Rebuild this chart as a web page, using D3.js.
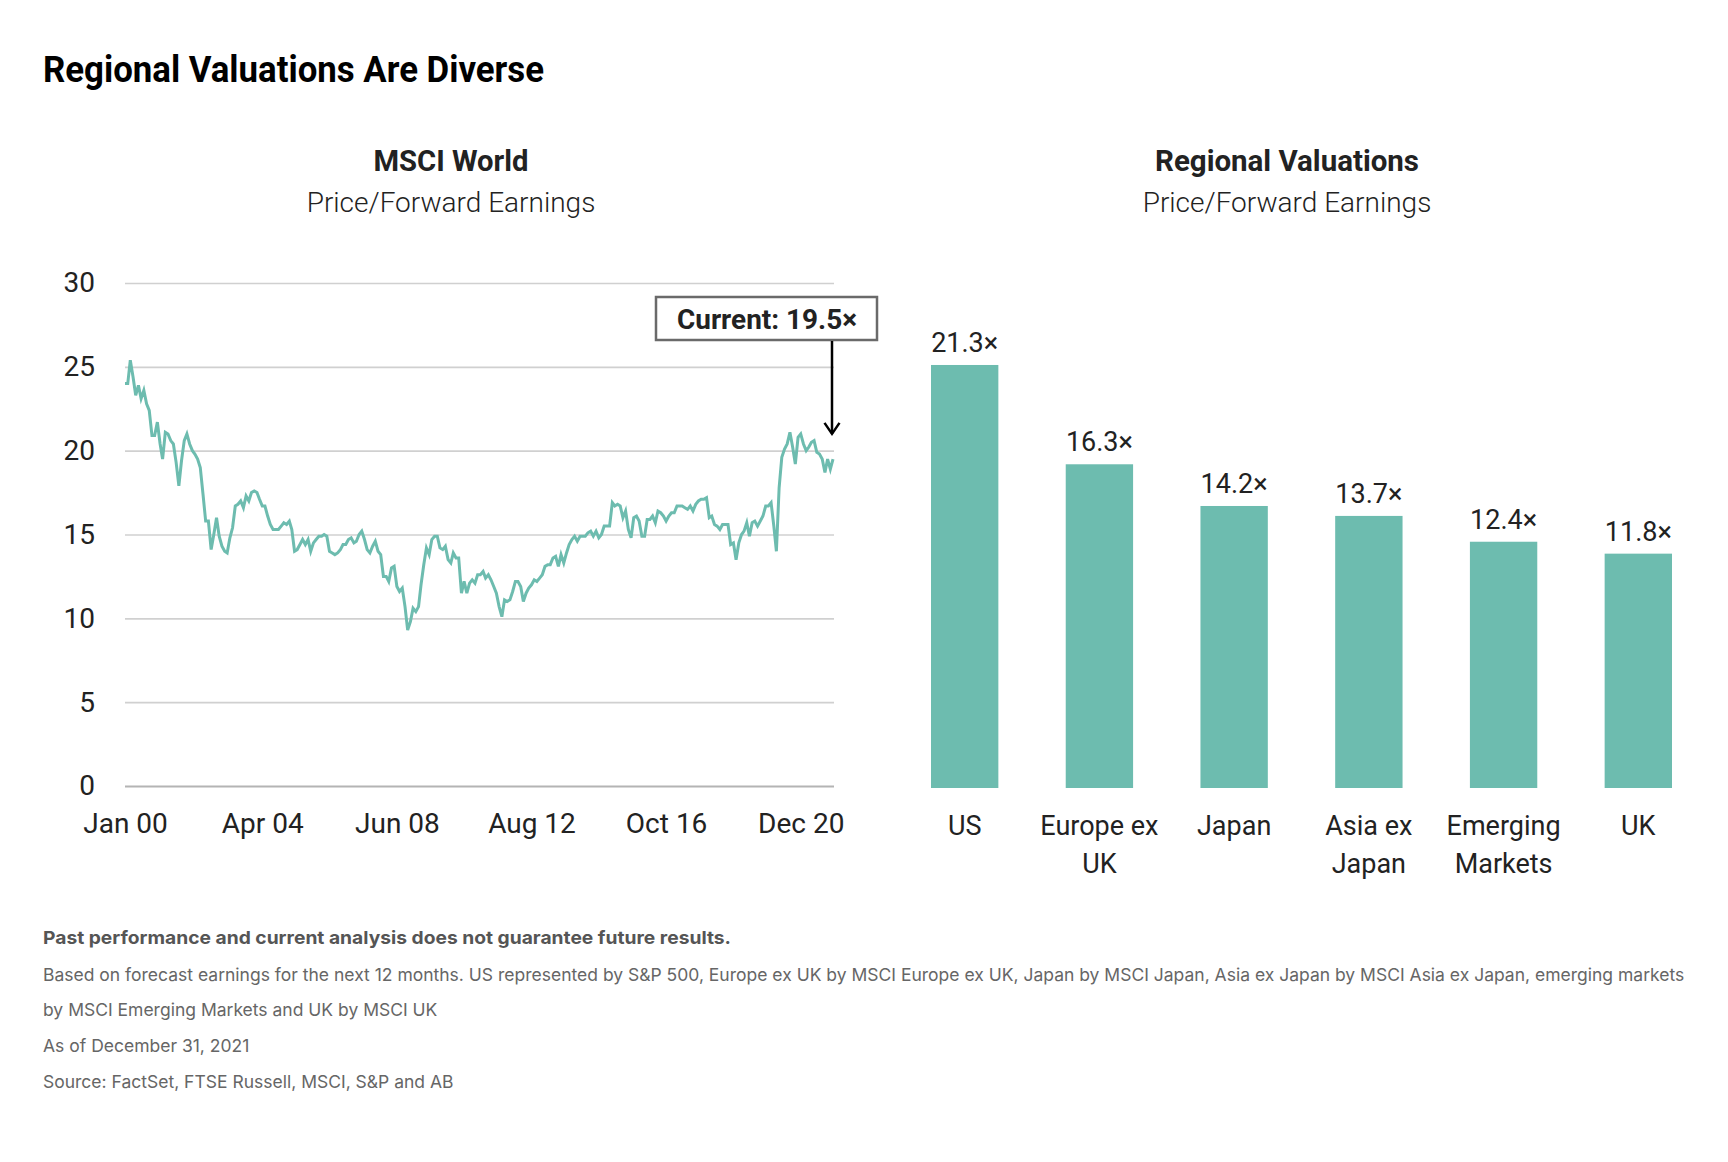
<!DOCTYPE html>
<html lang="en">
<head>
<meta charset="UTF-8">
<title>Regional Valuations Are Diverse</title>
<script src="https://cdn.jsdelivr.net/npm/d3@7"></script>
<style>
  body { margin: 0; background: #fff; }
  svg { display: block; font-family: Roboto, "Noto Sans", sans-serif; }
</style>
</head>
<body>
<div id="chart"></div>
<script>
// ---- data ----
// MSCI World forward P/E, monthly from Jan 2000 to Dec 2021
var peStart = "2000-01";
var peValues = [
  24.0, 24.0, 25.4, 24.4, 23.3, 23.9, 23.1, 23.6, 22.8, 22.4, 20.9, 20.9,
  21.7, 20.4, 19.5, 21.1, 21.0, 20.6, 20.4, 19.3, 17.9, 19.4, 20.6, 21.0,
  20.4, 20.0, 19.8, 19.5, 19.0, 17.4, 15.8, 15.8, 14.1, 15.0, 16.0, 14.9,
  14.3, 14.0, 13.9, 14.8, 15.4, 16.7, 16.8, 17.0, 16.6, 17.3, 17.0, 17.5,
  17.6, 17.5, 17.1, 16.7, 16.7, 16.1, 15.6, 15.3, 15.3, 15.3, 15.5, 15.7,
  15.6, 15.8, 15.3, 14.0, 14.1, 14.4, 14.7, 14.4, 14.7, 14.0, 14.5, 14.7,
  14.9, 14.9, 15.0, 14.9, 14.0, 13.9, 13.8, 13.9, 14.1, 14.4, 14.4, 14.7,
  14.8, 14.5, 14.6, 15.0, 15.2, 14.7, 14.1, 13.9, 14.3, 14.6, 14.0, 13.8,
  12.5, 12.5, 12.2, 13.0, 13.1, 11.9, 11.6, 11.8, 10.7, 9.3, 9.8, 10.6,
  10.4, 10.7, 12.0, 13.2, 14.2, 13.8, 14.7, 14.9, 14.9, 14.2, 14.1, 14.3,
  13.5, 13.3, 13.9, 13.6, 13.6, 11.5, 12.2, 11.5, 12.1, 12.3, 12.1, 12.6,
  12.6, 12.8, 12.4, 12.6, 12.3, 11.9, 11.5, 10.7, 10.1, 11.1, 11.0, 11.1,
  11.6, 12.2, 12.2, 11.9, 11.0, 11.5, 11.8, 12.0, 12.3, 12.2, 12.4, 12.6,
  13.1, 13.2, 13.2, 13.6, 13.7, 13.1, 13.8, 13.3, 13.9, 14.4, 14.7, 14.9,
  14.6, 14.9, 14.9, 14.9, 15.1, 15.2, 14.9, 15.2, 14.8, 15.0, 15.5, 15.5,
  15.5, 16.9, 16.7, 16.8, 16.7, 16.0, 16.4, 15.3, 14.8, 16.0, 16.1, 15.8,
  14.9, 14.9, 15.9, 15.9, 16.1, 15.7, 16.4, 16.3, 16.1, 15.8, 16.1, 16.3,
  16.3, 16.7, 16.7, 16.7, 16.6, 16.5, 16.7, 16.4, 16.8, 17.0, 17.1, 17.1,
  17.2, 16.0, 16.1, 15.6, 15.5, 15.3, 15.6, 15.6, 15.6, 14.4, 14.5, 13.5,
  14.5, 15.0, 15.2, 15.7, 14.9, 15.7, 15.8, 15.5, 15.8, 16.1, 16.7, 16.7,
  16.9, 15.5, 14.0, 17.8, 19.6, 20.1, 20.4, 21.1, 20.2, 19.2, 20.8, 21.0,
  20.4, 20.0, 20.2, 20.5, 20.6, 19.9, 19.8, 19.5, 18.7, 19.5, 18.9, 19.5
];
var peTicks = [0, 5, 10, 15, 20, 25, 30];
var dateTicks = ["2000-01", "2004-04", "2008-06", "2012-08", "2016-10", "2020-12"];
var currentLabel = "Current: 19.5\u00d7";

// Regional valuations (price / forward earnings)
var regions = ["US", "Europe ex UK", "Japan", "Asia ex Japan", "Emerging Markets", "UK"];
var regionLines = [["US"], ["Europe ex", "UK"], ["Japan"], ["Asia ex", "Japan"], ["Emerging", "Markets"], ["UK"]];
var regionValues = [21.3, 16.3, 14.2, 13.7, 12.4, 11.8];

var disclaimer = "Past performance and current analysis does not guarantee future results.";
var notes = [
  "Based on forecast earnings for the next 12 months. US represented by S&P 500, Europe ex UK by MSCI Europe ex UK, Japan by MSCI Japan, Asia ex Japan by MSCI Asia ex Japan, emerging markets",
  "by MSCI Emerging Markets and UK by MSCI UK",
  "As of December 31, 2021",
  "Source: FactSet, FTSE Russell, MSCI, S&P and AB"
];

// ---- setup ----
var w = 1728, h = 1162;
var teal = "#6dbcaf";
var ink = "#222222";

var svg = d3.select("#chart").append("svg")
  .attr("width", w)
  .attr("height", h);

svg.append("rect").attr("width", w).attr("height", h).attr("fill", "#fff");

// Main title
svg.append("text")
  .attr("x", 43).attr("y", 82)
  .attr("font-size", 36).attr("font-weight", 700)
  .attr("fill", "#000")
  .attr("textLength", 501).attr("lengthAdjust", "spacingAndGlyphs")
  .text("Regional Valuations Are Diverse");

// Panel titles
function panelTitle(cx, title, titleWidth) {
  svg.append("text")
    .attr("x", cx).attr("y", 171)
    .attr("text-anchor", "middle")
    .attr("font-size", 29).attr("font-weight", 700)
    .attr("fill", ink)
    .attr("textLength", titleWidth).attr("lengthAdjust", "spacingAndGlyphs")
    .text(title);
  svg.append("text")
    .attr("x", cx).attr("y", 212)
    .attr("text-anchor", "middle")
    .attr("font-size", 28).attr("font-weight", 300)
    .attr("fill", ink)
    .text("Price/Forward Earnings");
}
panelTitle(451, "MSCI World", 155);
panelTitle(1287, "Regional Valuations", 264);

// ---- left: line chart ----
var parseMonth = d3.timeParse("%Y-%m");
var start = parseMonth(peStart);
var series = peValues.map(function(v, i) {
  return { date: d3.timeMonth.offset(start, i), value: v };
});

var xScale = d3.scaleTime()
  .domain([start, series[series.length - 1].date])
  .range([125, 833]);

var yScale = d3.scaleLinear()
  .domain([0, 30])
  .range([786, 283]);

// y axis with gridlines
var yAxis = svg.append("g")
  .attr("transform", "translate(125,0)")
  .call(d3.axisLeft(yScale)
    .tickValues(peTicks)
    .tickSize(-709)
    .tickPadding(30));

yAxis.select(".domain").remove();
yAxis.selectAll(".tick line")
  .attr("stroke", function(d) { return d === 0 ? "#b4b4b4" : "#d0d0d0"; })
  .attr("stroke-width", function(d) { return d === 0 ? 2.2 : 1.6; });
yAxis.selectAll(".tick text")
  .attr("font-size", 28)
  .attr("font-family", "Roboto, sans-serif")
  .attr("font-weight", 400)
  .attr("fill", ink);

// x axis labels
var xAxis = svg.append("g")
  .attr("transform", "translate(0,786)")
  .call(d3.axisBottom(xScale)
    .tickValues(dateTicks.map(parseMonth))
    .tickFormat(d3.timeFormat("%b %y"))
    .tickSize(0)
    .tickPadding(27));

xAxis.select(".domain").remove();
xAxis.selectAll(".tick text")
  .attr("font-size", 28)
  .attr("font-family", "Roboto, sans-serif")
  .attr("fill", ink);

// the P/E line
var line = d3.line()
  .x(function(d) { return xScale(d.date); })
  .y(function(d) { return yScale(d.value); });

svg.append("path")
  .datum(series)
  .attr("d", line)
  .attr("fill", "none")
  .attr("stroke", teal)
  .attr("stroke-width", 3)
  .attr("stroke-linejoin", "miter");

// "Current" call-out box and arrow
var last = series[series.length - 1];
var ax = xScale(last.date) - 1;

svg.append("rect")
  .attr("x", 656).attr("y", 297)
  .attr("width", 221).attr("height", 43)
  .attr("fill", "#fff")
  .attr("stroke", "#6a6a6a")
  .attr("stroke-width", 2.5);

svg.append("text")
  .attr("x", 767).attr("y", 329)
  .attr("text-anchor", "middle")
  .attr("font-size", 28).attr("font-weight", 700)
  .attr("fill", ink)
  .attr("textLength", 180).attr("lengthAdjust", "spacingAndGlyphs")
  .text(currentLabel);

var tipY = yScale(21);
svg.append("line")
  .attr("x1", ax).attr("x2", ax)
  .attr("y1", 341).attr("y2", tipY)
  .attr("stroke", "#000").attr("stroke-width", 2.5);
svg.append("path")
  .attr("d", "M" + (ax - 7.5) + "," + (tipY - 11) + " L" + ax + "," + tipY + " L" + (ax + 7.5) + "," + (tipY - 11))
  .attr("fill", "none")
  .attr("stroke", "#000")
  .attr("stroke-width", 2.5);

// ---- right: bar chart ----
var xBand = d3.scaleBand()
  .domain(regions)
  .range([931, 1672])
  .paddingInner(0.5)
  .paddingOuter(0);

var yBar = d3.scaleLinear()
  .domain([0, 25])
  .range([788, 788 - 19.86 * 25]);

svg.selectAll("rect.bar")
  .data(regionValues)
  .enter()
  .append("rect")
  .attr("class", "bar")
  .attr("x", function(d, i) { return xBand(regions[i]); })
  .attr("y", function(d) { return yBar(d); })
  .attr("width", xBand.bandwidth())
  .attr("height", function(d) { return yBar(0) - yBar(d); })
  .attr("fill", teal);

svg.selectAll("text.bar-label")
  .data(regionValues)
  .enter()
  .append("text")
  .attr("class", "bar-label")
  .attr("x", function(d, i) { return xBand(regions[i]) + xBand.bandwidth() / 2; })
  .attr("y", function(d) { return yBar(d) - 13; })
  .attr("text-anchor", "middle")
  .attr("font-size", 27)
  .attr("fill", ink)
  .text(function(d) { return d.toFixed(1) + "\u00d7"; });

// category labels (two lines where needed)
var cats = svg.selectAll("text.cat")
  .data(regionLines)
  .enter()
  .append("text")
  .attr("class", "cat")
  .attr("x", function(d, i) { return xBand(regions[i]) + xBand.bandwidth() / 2; })
  .attr("y", 835)
  .attr("text-anchor", "middle")
  .attr("font-size", 27)
  .attr("fill", ink);

cats.selectAll("tspan")
  .data(function(d) { return d; })
  .enter()
  .append("tspan")
  .attr("x", function() { return d3.select(this.parentNode).attr("x"); })
  .attr("dy", function(d, i) { return i === 0 ? 0 : 38; })
  .text(function(d) { return d; });

// ---- footnotes ----
svg.append("text")
  .attr("x", 43).attr("y", 944)
  .attr("font-family", "Inter, 'Liberation Sans', sans-serif")
  .attr("font-size", 18).attr("font-weight", 700)
  .attr("fill", "#555")
  .attr("textLength", 688).attr("lengthAdjust", "spacingAndGlyphs")
  .text(disclaimer);

svg.selectAll("text.note")
  .data(notes)
  .enter()
  .append("text")
  .attr("class", "note")
  .attr("x", 43)
  .attr("y", function(d, i) { return 980.5 + i * 35.7; })
  .attr("font-family", "Inter, 'Liberation Sans', sans-serif")
  .attr("font-size", 17.5)
  .attr("fill", "#666")
  .text(function(d) { return d; });
</script>
</body>
</html>
